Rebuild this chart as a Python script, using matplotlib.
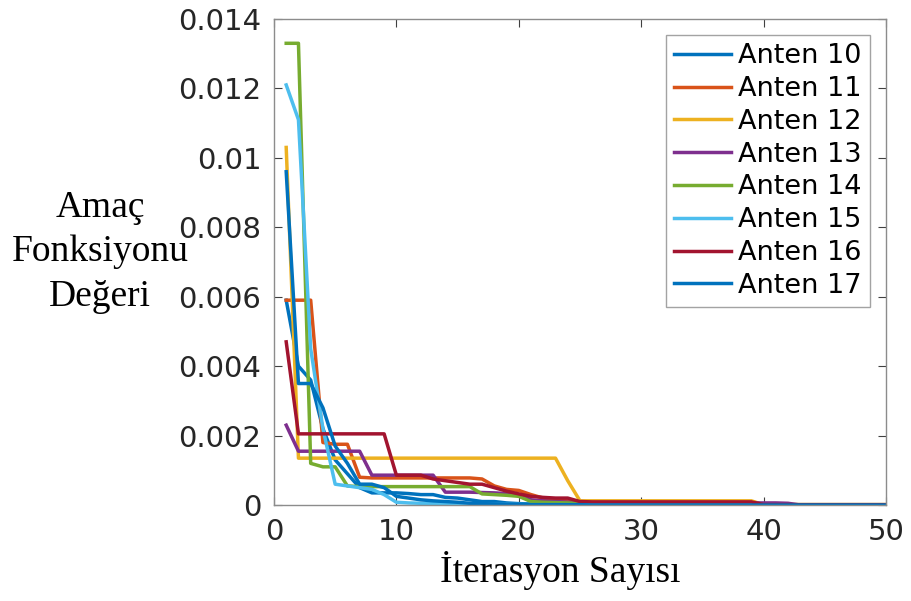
import numpy as np
import matplotlib
matplotlib.use("Agg")
import matplotlib.pyplot as plt

# iteration axis
iters = list(range(1, 51))

# objective values per antenna
anten10 = [0.0059, 0.0040, 0.0036, 0.0022, 0.0013, 0.0009, 0.0005, 0.00035, 0.00035, 0.00035,
           0.00033, 0.0003, 0.0003, 0.00022, 0.0002, 0.00015, 0.0001, 0.0001, 0.00006, 0.00004,
           0.00003, 0.00002, 0.00002, 0.00002, 0.00002, 0.00001, 0.00001, 0.00001, 0.00001, 0.00001,
           0.00001, 0.00001, 0.00001, 0.00001, 0.00001, 0.0, 0.0, 0.0, 0.0, 0.0,
           0.0, 0.0, 0.0, 0.0, 0.0, 0.0, 0.0, 0.0, 0.0, 0.0]
anten11 = [0.0059, 0.0059, 0.0059, 0.0018, 0.00175, 0.00175, 0.0008, 0.00078, 0.00078, 0.00078,
           0.00078, 0.00078, 0.00078, 0.00078, 0.00078, 0.00078, 0.00075, 0.00055, 0.00045, 0.00042,
           0.0003, 0.0002, 0.00015, 0.00012, 0.0001, 0.0001, 0.0001, 0.0001, 0.0001, 0.0001,
           0.0001, 0.0001, 0.0001, 0.0001, 0.0001, 0.0001, 0.0001, 0.0001, 0.0001, 0.00001,
           0.00001, 0.00001, 0.00001, 0.00001, 0.00001, 0.00001, 0.00001, 0.00001, 0.00001, 0.00001]
anten12 = [0.0103, 0.00135, 0.00135, 0.00135, 0.00135, 0.00135, 0.00135, 0.00135, 0.00135, 0.00135,
           0.00135, 0.00135, 0.00135, 0.00135, 0.00135, 0.00135, 0.00135, 0.00135, 0.00135, 0.00135,
           0.00135, 0.00135, 0.00135, 0.0007, 0.00012, 0.00012, 0.00012, 0.00012, 0.00012, 0.00012,
           0.00012, 0.00012, 0.00012, 0.00012, 0.00012, 0.00012, 0.00012, 0.00012, 0.00012, 0.00001,
           0.00001, 0.00001, 0.00001, 0.00001, 0.00001, 0.00001, 0.00001, 0.00001, 0.00001, 0.00001]
anten13 = [0.0023, 0.00155, 0.00155, 0.00155, 0.00155, 0.00155, 0.00155, 0.00086, 0.00086, 0.00086,
           0.00086, 0.00086, 0.00086, 0.00037, 0.00037, 0.00037, 0.00036, 0.00035, 0.00033, 0.0003,
           0.00015, 0.00012, 0.0001, 0.00008, 0.00007, 0.00006, 0.00006, 0.00006, 0.00006, 0.00006,
           0.00006, 0.00006, 0.00006, 0.00006, 0.00006, 0.00006, 0.00006, 0.00006, 0.00006, 0.00006,
           0.00006, 0.00005, 0.0, 0.0, 0.0, 0.0, 0.0, 0.0, 0.0, 0.0]
anten14 = [0.0133, 0.0133, 0.0012, 0.0011, 0.0011, 0.00055, 0.00053, 0.00053, 0.00053, 0.00053,
           0.00053, 0.00053, 0.00053, 0.00053, 0.00053, 0.00053, 0.00032, 0.0003, 0.00028, 0.00025,
           0.0001, 0.00008, 0.00007, 0.00006, 0.00005, 0.00004, 0.00004, 0.00003, 0.00003, 0.00003,
           0.00002, 0.00002, 0.00002, 0.00002, 0.00002, 0.00002, 0.00002, 0.00002, 0.00002, 0.00001,
           0.00001, 0.00001, 0.00001, 0.00001, 0.00001, 0.00001, 0.00001, 0.00001, 0.00001, 0.00001]
anten15 = [0.0121, 0.0111, 0.0045, 0.0022, 0.0006, 0.00055, 0.0005, 0.00045, 0.0003, 0.00008,
           0.00006, 0.00005, 0.00004, 0.00004, 0.00003, 0.00003, 0.00002, 0.00002, 0.00002, 0.00002,
           0.00001, 0.00001, 0.00001, 0.00001, 0.00001, 0.00001, 0.00001, 0.00001, 0.00001, 0.00001,
           0.0, 0.0, 0.0, 0.0, 0.0, 0.0, 0.0, 0.0, 0.0, 0.0,
           0.0, 0.0, 0.0, 0.0, 0.0, 0.0, 0.0, 0.0, 0.0, 0.0]
anten16 = [0.0047, 0.00205, 0.00205, 0.00205, 0.00205, 0.00205, 0.00205, 0.00205, 0.00205, 0.00086,
           0.00086, 0.00086, 0.00075, 0.0007, 0.00065, 0.0006, 0.0006, 0.0005, 0.0004, 0.00032,
           0.00025, 0.00022, 0.0002, 0.0002, 0.0001, 0.00009, 0.00009, 0.00009, 0.00009, 0.00009,
           0.00009, 0.00009, 0.00009, 0.00009, 0.00009, 0.00009, 0.00009, 0.00009, 0.00009, 0.00001,
           0.00001, 0.00001, 0.00001, 0.00001, 0.00001, 0.00001, 0.00001, 0.00001, 0.00001, 0.00001]
anten17 = [0.0096, 0.0035, 0.0035, 0.0028, 0.0017, 0.0012, 0.0006, 0.0006, 0.0005, 0.00025,
           0.0002, 0.00015, 0.00012, 0.0001, 0.00008, 0.00005, 0.00004, 0.00003, 0.00002, 0.00002,
           0.00001, 0.00001, 0.00001, 0.00001, 0.00001, 0.0, 0.0, 0.0, 0.0, 0.0,
           0.0, 0.0, 0.0, 0.0, 0.0, 0.0, 0.0, 0.0, 0.0, 0.0,
           0.0, 0.0, 0.0, 0.0, 0.0, 0.0, 0.0, 0.0, 0.0, 0.0]

labels = ["Anten 10", "Anten 11", "Anten 12", "Anten 13",
          "Anten 14", "Anten 15", "Anten 16", "Anten 17"]
colors = ["#0072BD", "#D95319", "#EDB120", "#7E2F8E",
          "#77AC30", "#4DBEEE", "#A2142F", "#0072BD"]

yticks = [0, 0.002, 0.004, 0.006, 0.008, 0.01, 0.012, 0.014]
ytick_labels = ["0", "0.002", "0.004", "0.006", "0.008", "0.01", "0.012", "0.014"]
xticks = [0, 10, 20, 30, 40, 50]
ylabel_lines = ["Amaç", "Fonksiyonu", "Değeri"]

fig = plt.figure(figsize=(9.12, 6.01), dpi=100)
ax = fig.add_axes([0.3004, 0.1597, 0.6711, 0.8087])

series = [anten10, anten11, anten12, anten13, anten14, anten15, anten16, anten17]
for vals, lab, col in zip(series, labels, colors):
    ax.plot(iters, vals, color=col, lw=2.5, label=lab)

ax.set_xlim(0, 50)
ax.set_ylim(0, 0.014)
ax.set_xticks(xticks)
ax.set_yticks(yticks)
ax.set_yticklabels(ytick_labels)

for s in ax.spines.values():
    s.set_color("#8c8c8c")
    s.set_linewidth(1.0)
ax.tick_params(direction="in", top=True, right=True, length=6, width=0.8,
               color="#404040", labelsize=21, labelcolor="#262626", pad=9)

serif = ["Liberation Serif", "DejaVu Serif"]
# y label as three centred lines (like the original)
for i, line in enumerate(ylabel_lines):
    fig.text(0.11, 0.655 - i * 0.074, line, ha="center", va="center",
             family=serif, fontsize=27)
fig.text(0.614, 0.05, "İterasyon Sayısı", ha="center", va="center",
         family=serif, fontsize=27)

leg = ax.legend(loc="upper right", fontsize=19.5, frameon=True, fancybox=False,
                handlelength=2.1, handletextpad=0.25, labelspacing=0.25,
                borderpad=0.3, borderaxespad=0.6)
leg.get_frame().set_edgecolor("#8c8c8c")
leg.get_frame().set_linewidth(1.0)

fig.savefig("out.png", dpi=100)
